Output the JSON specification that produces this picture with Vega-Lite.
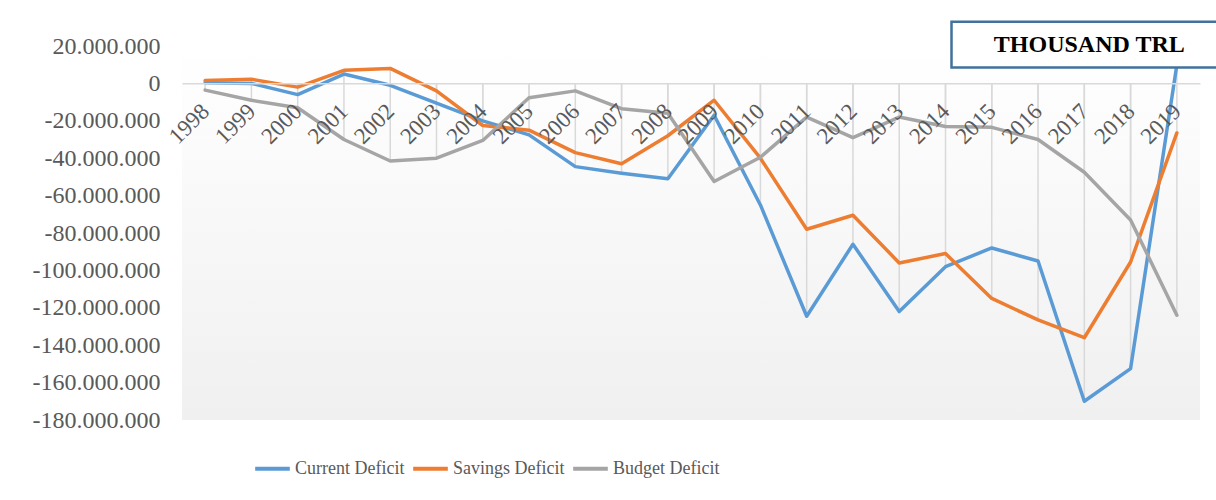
{
  "$schema": "https://vega.github.io/schema/vega-lite/v6.json",
  "width": 1018,
  "height": 374,
  "autosize": {"type": "none"},
  "padding": {"left": 182, "top": 46, "right": 16, "bottom": 80},
  "background": "white",
  "config": {
    "locale": {"number": {"decimal": ",", "thousands": ".", "grouping": [3], "currency": ["", ""], "minus": "-"}},
    "view": {"stroke": null},
    "font": "Liberation Serif"
  },
  "datasets": {
    "deficits": [
      {"year": "1998", "series": "Current Deficit", "value": 300000},
      {"year": "1999", "series": "Current Deficit", "value": 0},
      {"year": "2000", "series": "Current Deficit", "value": -6000000},
      {"year": "2001", "series": "Current Deficit", "value": 5000000},
      {"year": "2002", "series": "Current Deficit", "value": -1000000},
      {"year": "2003", "series": "Current Deficit", "value": -10500000},
      {"year": "2004", "series": "Current Deficit", "value": -20000000},
      {"year": "2005", "series": "Current Deficit", "value": -27500000},
      {"year": "2006", "series": "Current Deficit", "value": -44500000},
      {"year": "2007", "series": "Current Deficit", "value": -48000000},
      {"year": "2008", "series": "Current Deficit", "value": -51000000},
      {"year": "2009", "series": "Current Deficit", "value": -17000000},
      {"year": "2010", "series": "Current Deficit", "value": -65000000},
      {"year": "2011", "series": "Current Deficit", "value": -124500000},
      {"year": "2012", "series": "Current Deficit", "value": -86000000},
      {"year": "2013", "series": "Current Deficit", "value": -122000000},
      {"year": "2014", "series": "Current Deficit", "value": -98000000},
      {"year": "2015", "series": "Current Deficit", "value": -88000000},
      {"year": "2016", "series": "Current Deficit", "value": -95000000},
      {"year": "2017", "series": "Current Deficit", "value": -170000000},
      {"year": "2018", "series": "Current Deficit", "value": -152500000},
      {"year": "2019", "series": "Current Deficit", "value": 10000000},
      {"year": "1998", "series": "Savings Deficit", "value": 1500000},
      {"year": "1999", "series": "Savings Deficit", "value": 2200000},
      {"year": "2000", "series": "Savings Deficit", "value": -2000000},
      {"year": "2001", "series": "Savings Deficit", "value": 7000000},
      {"year": "2002", "series": "Savings Deficit", "value": 8000000},
      {"year": "2003", "series": "Savings Deficit", "value": -4000000},
      {"year": "2004", "series": "Savings Deficit", "value": -22500000},
      {"year": "2005", "series": "Savings Deficit", "value": -25000000},
      {"year": "2006", "series": "Savings Deficit", "value": -37000000},
      {"year": "2007", "series": "Savings Deficit", "value": -43000000},
      {"year": "2008", "series": "Savings Deficit", "value": -28000000},
      {"year": "2009", "series": "Savings Deficit", "value": -9000000},
      {"year": "2010", "series": "Savings Deficit", "value": -40000000},
      {"year": "2011", "series": "Savings Deficit", "value": -78000000},
      {"year": "2012", "series": "Savings Deficit", "value": -70500000},
      {"year": "2013", "series": "Savings Deficit", "value": -96000000},
      {"year": "2014", "series": "Savings Deficit", "value": -91000000},
      {"year": "2015", "series": "Savings Deficit", "value": -115000000},
      {"year": "2016", "series": "Savings Deficit", "value": -126500000},
      {"year": "2017", "series": "Savings Deficit", "value": -136000000},
      {"year": "2018", "series": "Savings Deficit", "value": -95500000},
      {"year": "2019", "series": "Savings Deficit", "value": -26500000},
      {"year": "1998", "series": "Budget Deficit", "value": -3600000},
      {"year": "1999", "series": "Budget Deficit", "value": -9000000},
      {"year": "2000", "series": "Budget Deficit", "value": -13000000},
      {"year": "2001", "series": "Budget Deficit", "value": -30000000},
      {"year": "2002", "series": "Budget Deficit", "value": -41500000},
      {"year": "2003", "series": "Budget Deficit", "value": -40000000},
      {"year": "2004", "series": "Budget Deficit", "value": -30500000},
      {"year": "2005", "series": "Budget Deficit", "value": -7700000},
      {"year": "2006", "series": "Budget Deficit", "value": -4000000},
      {"year": "2007", "series": "Budget Deficit", "value": -13500000},
      {"year": "2008", "series": "Budget Deficit", "value": -16000000},
      {"year": "2009", "series": "Budget Deficit", "value": -52500000},
      {"year": "2010", "series": "Budget Deficit", "value": -39500000},
      {"year": "2011", "series": "Budget Deficit", "value": -18000000},
      {"year": "2012", "series": "Budget Deficit", "value": -29000000},
      {"year": "2013", "series": "Budget Deficit", "value": -18000000},
      {"year": "2014", "series": "Budget Deficit", "value": -23000000},
      {"year": "2015", "series": "Budget Deficit", "value": -23500000},
      {"year": "2016", "series": "Budget Deficit", "value": -30000000},
      {"year": "2017", "series": "Budget Deficit", "value": -47500000},
      {"year": "2018", "series": "Budget Deficit", "value": -73000000},
      {"year": "2019", "series": "Budget Deficit", "value": -124000000}
    ]
  },
  "data": {"name": "deficits"},
  "layer": [
    {
      "mark": {"type": "rect", "fill": {"gradient": "linear", "x1": 0, "y1": 0, "x2": 0, "y2": 1, "stops": [{"offset": 0, "color": "#FFFFFF"}, {"offset": 1, "color": "#F0F0F0"}]}},
      "data": {"values": [{}]},
      "encoding": {}
    },
    {
      "mark": {"type": "rule", "color": "#D9D9D9", "strokeWidth": 1.5},
      "encoding": {
        "x": {"field": "year", "type": "ordinal", "scale": {"type": "point", "padding": 0.5},
          "axis": {"title": null, "offset": -336.7, "zindex": 1, "labelAngle": -45, "labelAlign": "right", "labelBaseline": "middle", "labelPadding": 24, "labelFontSize": 23, "labelColor": "#595959", "labelFont": "Liberation Serif", "ticks": false, "domainColor": "#D9D9D9", "domainWidth": 1.5, "grid": false, "labelOverlap": false}},
        "y": {"aggregate": "min", "field": "value", "type": "quantitative", "scale": {"domain": [-180000000, 20000000], "nice": false, "zero": false},
          "axis": {"title": null, "values": [20000000, 0, -20000000, -40000000, -60000000, -80000000, -100000000, -120000000, -140000000, -160000000, -180000000], "tickCount": 11, "format": ",.0f", "labelFontSize": 24, "labelColor": "#595959", "labelFont": "Liberation Serif", "labelPadding": 22, "ticks": false, "domain": false, "grid": false, "labelOverlap": false, "labelFlush": false}},
        "y2": {"datum": 0}
      }
    },
    {
      "mark": {"type": "rule", "color": "#D9D9D9", "strokeWidth": 1.5},
      "encoding": {
        "x": {"field": "year", "type": "ordinal"},
        "y": {"aggregate": "max", "field": "value", "type": "quantitative"},
        "y2": {"datum": 0}
      }
    },
    {
      "mark": {"type": "line", "strokeWidth": 3.5, "strokeJoin": "round", "strokeCap": "round"},
      "encoding": {
        "x": {"field": "year", "type": "ordinal"},
        "y": {"field": "value", "type": "quantitative"},
        "color": {
          "field": "series", "type": "nominal",
          "scale": {"domain": ["Current Deficit", "Savings Deficit", "Budget Deficit"], "range": ["#5B9BD5", "#ED7D31", "#A5A5A5"]},
          "legend": {"title": null, "orient": "none", "direction": "horizontal", "legendX": 71, "legendY": 403, "symbolType": "stroke", "symbolSize": 1200, "symbolStrokeWidth": 4, "labelFontSize": 18, "labelFont": "Liberation Serif", "labelColor": "#595959", "labelOffset": 3, "columnPadding": 0, "labelLimit": 300}
        },
        "order": {"field": "year"}
      }
    },
    {
      "mark": {"type": "rect", "fill": "white", "stroke": "#41719C", "strokeWidth": 2.5, "xOffset": 6, "x2Offset": 60},
      "data": {"values": [{}]},
      "encoding": {
        "x": {"datum": "2014"},
        "x2": {"datum": "2019"},
        "y": {"datum": 33000000},
        "y2": {"datum": 8500000}
      }
    },
    {
      "mark": {"type": "text", "text": "THOUSAND TRL", "font": "Liberation Serif", "fontWeight": "bold", "fontSize": 24, "color": "black", "align": "center", "baseline": "middle", "xOffset": 5},
      "data": {"values": [{}]},
      "encoding": {
        "x": {"datum": "2017"},
        "y": {"datum": 20500000}
      }
    }
  ]
}
